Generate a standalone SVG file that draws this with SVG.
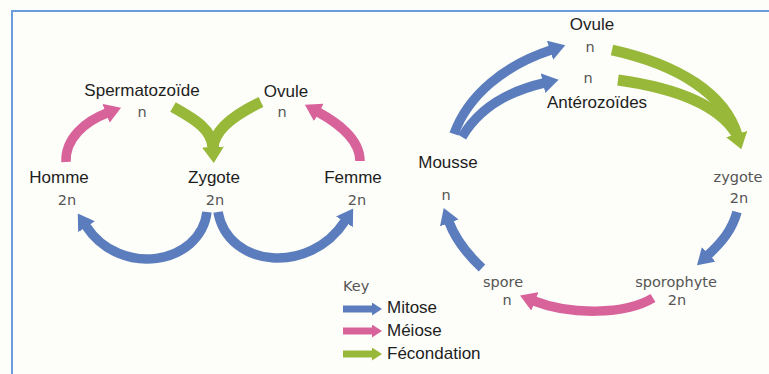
<svg xmlns="http://www.w3.org/2000/svg" width="769" height="374" viewBox="0 0 769 374">
<style>
.lbl{font-family:"Liberation Sans",Arial,sans-serif;font-size:17px;fill:#1e1e1e;text-anchor:middle}
.lg{font-family:"Liberation Sans",Arial,sans-serif;font-size:17px;fill:#1e1e1e}
.pl{font-family:"DejaVu Sans","Noto Sans",sans-serif;font-size:14.5px;fill:#555555;text-anchor:middle}
.cb{fill:none;stroke:#5b7dbd;stroke-width:9.5}
.cp{fill:none;stroke:#d8639b;stroke-width:9.5}
.cg{fill:none;stroke:#98b83a;stroke-width:11}
</style>
<defs>
<marker id="hb" viewBox="0 0 16 20" markerWidth="16" markerHeight="20" refX="1" refY="10" orient="auto" markerUnits="userSpaceOnUse"><path d="M0,0 L16,10 L0,20 z" fill="#5b7dbd"/></marker>
<marker id="hp" viewBox="0 0 16 20" markerWidth="16" markerHeight="20" refX="1" refY="10" orient="auto" markerUnits="userSpaceOnUse"><path d="M0,0 L16,10 L0,20 z" fill="#d8639b"/></marker>
<marker id="hg" viewBox="0 0 16 22" markerWidth="16" markerHeight="22" refX="1" refY="11" orient="auto" markerUnits="userSpaceOnUse"><path d="M0,0 L16,11 L0,22 z" fill="#98b83a"/></marker>
<marker id="sb" viewBox="0 0 10 13" markerWidth="10" markerHeight="13" refX="1" refY="6.5" orient="auto" markerUnits="userSpaceOnUse"><path d="M0,0 L10,6.5 L0,13 z" fill="#5b7dbd"/></marker>
<marker id="sp" viewBox="0 0 10 13" markerWidth="10" markerHeight="13" refX="1" refY="6.5" orient="auto" markerUnits="userSpaceOnUse"><path d="M0,0 L10,6.5 L0,13 z" fill="#d8639b"/></marker>
<marker id="sg" viewBox="0 0 10 13" markerWidth="10" markerHeight="13" refX="1" refY="6.5" orient="auto" markerUnits="userSpaceOnUse"><path d="M0,0 L10,6.5 L0,13 z" fill="#98b83a"/></marker>
</defs>
<rect x="0" y="0" width="769" height="374" fill="#fdfdf9"/>
<rect x="12" y="11" width="800" height="420" fill="none" stroke="#6a9ddb" stroke-width="2"/>

<g id="connectors">
<path class="cp" d="M66,162 C65,138 86,121 107,113" marker-end="url(#hp)"/>
<path class="cg" d="M173,107 C192,118 212,128 213,148" marker-end="url(#hg)"/>
<path class="cg" d="M261,102 C240,112 214,128 213,148"/>
<path class="cp" d="M360,161 C360,138 336,122 318,112" marker-end="url(#hp)"/>
<path class="cb" d="M207,212 C200,265 120,278 86,226" marker-end="url(#hb)"/>
<path class="cb" d="M218,212 C228,268 310,275 345,221" marker-end="url(#hb)"/>
<path class="cb" d="M454,134 C468,95 505,65 551,50" marker-end="url(#hb)"/>
<path class="cb" d="M462,137 C478,110 505,92 544,83" marker-end="url(#hb)"/>
<path class="cg" d="M612,50 C680,65 725,95 737,135" marker-end="url(#hg)"/>
<path class="cg" d="M618,80 C675,88 718,105 736,133"/>
<path class="cb" d="M737,212 C732,230 722,242 708,255" marker-end="url(#hb)"/>
<path class="cp" d="M653,298 C625,315 570,315 534,301" marker-end="url(#hp)"/>
<path class="cb" d="M482,268 C468,255 455,238 449,222" marker-end="url(#hb)"/>
</g>

<g id="spermatozoide"><text class="lbl" x="142" y="96">Spermatozoïde</text><text class="pl" x="142" y="117">n</text></g>
<g id="ovule-left"><text class="lbl" x="286" y="97">Ovule</text><text class="pl" x="282" y="117">n</text></g>
<g id="homme"><text class="lbl" x="59" y="183">Homme</text><text class="pl" x="67" y="205">2n</text></g>
<g id="zygote-left"><text class="lbl" x="214" y="183">Zygote</text><text class="pl" x="215" y="205">2n</text></g>
<g id="femme"><text class="lbl" x="353" y="183">Femme</text><text class="pl" x="357" y="205">2n</text></g>

<g id="ovule-right"><text class="lbl" x="592" y="30">Ovule</text><text class="pl" x="590" y="52">n</text></g>
<g id="anterozoides"><text class="pl" x="588" y="83">n</text><text class="lbl" x="597" y="108">Antérozoïdes</text></g>
<g id="mousse"><text class="lbl" x="448" y="168">Mousse</text><text class="pl" x="446" y="200">n</text></g>
<g id="zygote-right"><text class="pl" x="738" y="182">zygote</text><text class="pl" x="739" y="203">2n</text></g>
<g id="sporophyte"><text class="pl" x="676" y="287">sporophyte</text><text class="pl" x="677" y="305">2n</text></g>
<g id="spore"><text class="pl" x="503" y="287">spore</text><text class="pl" x="507" y="305">n</text></g>

<g id="key">
<text class="pl" x="343" y="291" style="text-anchor:start">Key</text>
<line x1="343" y1="309" x2="373" y2="309" stroke="#5b7dbd" stroke-width="7" marker-end="url(#sb)"/>
<line x1="343" y1="331" x2="373" y2="331" stroke="#d8639b" stroke-width="7" marker-end="url(#sp)"/>
<line x1="343" y1="354" x2="373" y2="354" stroke="#98b83a" stroke-width="7" marker-end="url(#sg)"/>
<text class="lg" x="387" y="313">Mitose</text>
<text class="lg" x="387" y="336">Méiose</text>
<text class="lg" x="387" y="359">Fécondation</text>
</g>
</svg>
